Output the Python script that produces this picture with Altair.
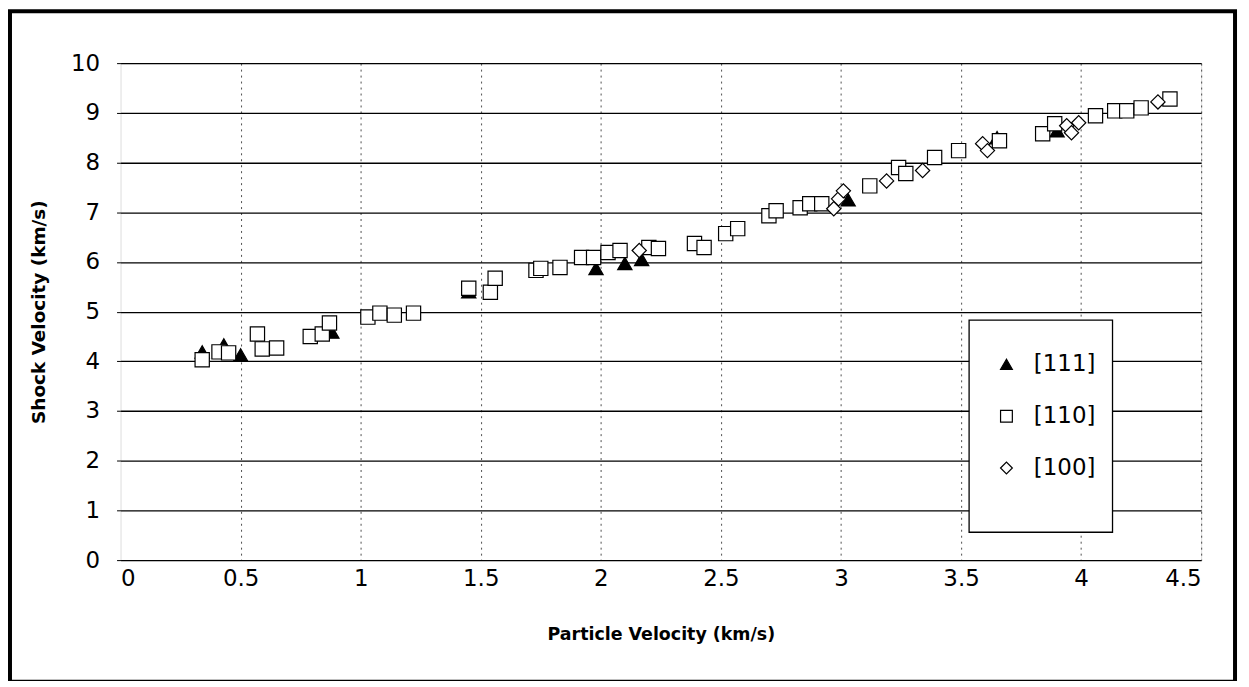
import altair as alt
import pandas as pd

# [111] series (filled triangles)
tri_x = [0.34, 0.43, 0.50, 0.88, 1.45, 1.98, 2.10, 2.17, 3.03, 3.65, 3.90]
tri_y = [4.19, 4.33, 4.13, 4.59, 5.40, 5.87, 5.97, 6.05, 7.25, 8.50, 8.64]

# [110] series (open squares)
sq_x = [0.34, 0.41, 0.45, 0.57, 0.59, 0.65, 0.79, 0.84, 0.87, 1.03, 1.08, 1.14,
        1.22, 1.45, 1.54, 1.56, 1.73, 1.75, 1.83, 1.92, 1.97, 2.03, 2.08, 2.20,
        2.24, 2.39, 2.43, 2.52, 2.57, 2.70, 2.73, 2.83, 2.87, 2.92, 3.12, 3.24,
        3.27, 3.39, 3.49, 3.66, 3.84, 3.89, 4.06, 4.14, 4.19, 4.25, 4.37]
sq_y = [4.03, 4.19, 4.17, 4.55, 4.25, 4.27, 4.50, 4.55, 4.77, 4.89, 4.97, 4.93,
        4.97, 5.47, 5.39, 5.67, 5.83, 5.87, 5.89, 6.09, 6.09, 6.19, 6.23, 6.29,
        6.27, 6.37, 6.29, 6.57, 6.67, 6.93, 7.03, 7.09, 7.17, 7.17, 7.53, 7.90,
        7.78, 8.10, 8.24, 8.44, 8.58, 8.78, 8.94, 9.04, 9.04, 9.10, 9.28]

# [100] series (open diamonds)
dia_x = [2.16, 2.97, 2.99, 3.01, 3.19, 3.34, 3.59, 3.61, 3.94, 3.96, 3.99, 4.32]
dia_y = [6.23, 7.07, 7.27, 7.43, 7.63, 7.84, 8.38, 8.24, 8.74, 8.60, 8.80, 9.22]

series_names = ["[111]", "[110]", "[100]"]
x_ticks = [0, 0.5, 1, 1.5, 2, 2.5, 3, 3.5, 4, 4.5]
y_ticks = [0, 1, 2, 3, 4, 5, 6, 7, 8, 9, 10]

rows = []
for name, xs, ys in zip(series_names, [tri_x, sq_x, dia_x], [tri_y, sq_y, dia_y]):
    for a, b in zip(xs, ys):
        rows.append({"u": a, "v": b, "orientation": name})
df = pd.DataFrame(rows)

FONT = "DejaVu Sans"
W, H = 1085, 499

x_enc = alt.X("u:Q", scale=alt.Scale(domain=[0, 4.5], nice=False, zero=False),
              axis=alt.Axis(values=x_ticks, format="~g", title="Particle Velocity (km/s)",
                            grid=True, gridColor="#222", gridDash=[2, 4], gridWidth=1,
                            gridOpacity={"condition": {"test": "datum.value == 0", "value": 0}, "value": 0.8},
                            domain=False, ticks=False, labelPadding=7, titlePadding=36,
                            labelFontSize=23, titleFontSize=17.5, titleFontWeight="bold",
                            labelFont=FONT, titleFont=FONT, labelColor="black", titleColor="black"))
y_enc = alt.Y("v:Q", scale=alt.Scale(domain=[0, 10], nice=False, zero=False),
              axis=alt.Axis(values=y_ticks, format="d", title="Shock Velocity (km/s)",
                            grid=True, gridColor="black", gridWidth=1.3,
                            domain=False, ticks=True, tickSize=4, tickColor="black",
                            labelPadding=17, titlePadding=22,
                            labelFontSize=23, titleFontSize=18.5, titleFontWeight="bold",
                            labelFont=FONT, titleFont=FONT, labelColor="black", titleColor="black"))

leg = alt.Legend(title=None, orient="none", legendX=878, legendY=291,
                 padding=0, rowPadding=28, labelOffset=16, zindex=5,
                 labelFontSize=23, labelFont=FONT, labelColor="black",
                 symbolSize=140, symbolStrokeWidth=1.2)

points = alt.Chart(df).mark_point(filled=True, strokeWidth=1.2,
                                  opacity=1, size=205).encode(
    x=x_enc,
    y=y_enc,
    shape=alt.Shape("orientation:N", scale=alt.Scale(domain=series_names,
                                                     range=["triangle-up", "square", "diamond"]),
                    legend=leg),
    fill=alt.Fill("orientation:N", scale=alt.Scale(domain=series_names,
                                                   range=["black", "white", "white"]),
                  legend=leg),
    stroke=alt.Stroke("orientation:N", scale=alt.Scale(domain=series_names,
                                                       range=["black", "black", "black"]),
                      legend=leg),
)

one = pd.DataFrame({"k": [0]})
legend_box = alt.Chart(one).mark_rect(fill="white", stroke="black", strokeWidth=1.3).encode(
    x=alt.value(852), x2=alt.value(996), y=alt.value(258), y2=alt.value(471))

frame = alt.Chart(one).mark_rect(fill=None, filled=False, stroke="black", strokeWidth=4).encode(
    x=alt.value(-111), x2=alt.value(1119), y=alt.value(-52), y2=alt.value(621))

chart = alt.layer(legend_box, points, frame).resolve_legend(
    shape="shared", fill="shared", stroke="shared").properties(
    width=W, height=H,
    autosize=alt.AutoSizeParams(type="none"),
    padding={"left": 113, "top": 54, "right": 40, "bottom": 120},
).configure_view(stroke=None).configure(background="white")

chart.save("out.html", embed_options={"renderer": "svg", "actions": False})
